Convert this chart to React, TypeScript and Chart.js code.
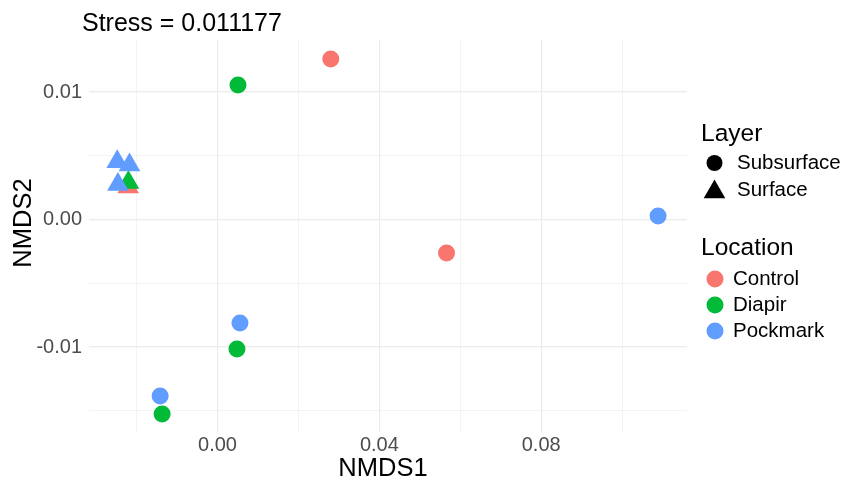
import { useEffect, useRef } from 'react';
import { Chart, registerables } from 'chart.js';
Chart.register(...registerables);

const FONT = '"Liberation Sans", Arial, Helvetica, sans-serif';

const titleText = 'Stress = 0.011177';
const xTitle = 'NMDS1';
const yTitle = 'NMDS2';

const locations = ['Control', 'Diapir', 'Pockmark'];
const locationColors = ['#F8766D', '#00BA38', '#619CFF'];
const layers = ['Subsurface', 'Surface'];

// NMDS coordinates per group
const controlSubX = [0.02799, 0.0566];
const controlSubY = [0.01259, -0.00263];
const controlSurfX = [-0.02207];
const controlSurfY = [0.00255];

const diapirSubX = [0.00506, 0.00481, -0.01369];
const diapirSubY = [0.01055, -0.01016, -0.01525];
const diapirSurfX = [-0.02202];
const diapirSurfY = [0.0029];

const pockmarkSubX = [0.10888, 0.00555, -0.01418];
const pockmarkSubY = [0.00027, -0.00812, -0.01384];
const pockmarkSurfX = [-0.02478, -0.02175, -0.02461];
const pockmarkSurfY = [0.00453, 0.00427, 0.00275];

const xTicks = [-0.02, 0, 0.02, 0.04, 0.06, 0.08, 0.1];
const xMajor = [0, 0.04, 0.08];
const xLabels = ['0.00', '0.04', '0.08'];
const yTicks = [-0.015, -0.01, -0.005, 0, 0.005, 0.01];
const yMajor = [-0.01, 0, 0.01];
const yLabels = ['-0.01', '0.00', '0.01'];

const xMin = -0.03176;
const xMax = 0.11603;
const yMin = -0.016667;
const yMax = 0.014078;

const zip = (xs: number[], ys: number[]) => xs.map((x, i) => ({ x, y: ys[i] }));
const near = (a: number, b: number) => Math.abs(a - b) < 1e-9;

export default function App() {
  const ref = useRef<HTMLCanvasElement | null>(null);

  useEffect(() => {
    if (!ref.current) return;
    const groups = [
      { loc: 2, sub: zip(pockmarkSubX, pockmarkSubY), surf: zip(pockmarkSurfX, pockmarkSurfY) },
      { loc: 1, sub: zip(diapirSubX, diapirSubY), surf: zip(diapirSurfX, diapirSurfY) },
      { loc: 0, sub: zip(controlSubX, controlSubY), surf: zip(controlSurfX, controlSurfY) },
    ];
    const datasets: any[] = [];
    groups.forEach((g, gi) => {
      const c = locationColors[g.loc];
      datasets.push({
        label: locations[g.loc] + ' ' + layers[0],
        data: g.sub,
        pointStyle: 'circle',
        pointRadius: 8.5,
        backgroundColor: c,
        borderColor: c,
        borderWidth: 0,
        order: gi,
      });
      datasets.push({
        label: locations[g.loc] + ' ' + layers[1],
        data: g.surf,
        pointStyle: 'triangle',
        pointRadius: 12.5,
        backgroundColor: c,
        borderColor: c,
        borderWidth: 0,
        order: gi,
      });
    });

    const overlay = {
      id: 'overlay',
      afterDraw(chart: any) {
        const ctx = chart.ctx as CanvasRenderingContext2D;
        ctx.save();
        ctx.fillStyle = '#000';
        // title
        ctx.font = `25px ${FONT}`;
        ctx.textAlign = 'left';
        ctx.textBaseline = 'alphabetic';
        ctx.fillText(titleText, 82, 31);
        // axis titles
        ctx.textAlign = 'center';
        ctx.textBaseline = 'middle';
        ctx.font = `25.5px ${FONT}`;
        ctx.fillText(xTitle, 383, 469);
        ctx.save();
        ctx.translate(24, 223);
        ctx.rotate(-Math.PI / 2);
        ctx.fillText(yTitle, 0, 0);
        ctx.restore();
        // legend: Layer
        ctx.textAlign = 'left';
        ctx.font = `24.5px ${FONT}`;
        ctx.fillText('Layer', 701, 134);
        ctx.font = `20.5px ${FONT}`;
        ctx.fillText(layers[0], 737, 163);
        ctx.fillText(layers[1], 737, 190);
        ctx.beginPath();
        ctx.arc(714.5, 163, 8, 0, Math.PI * 2);
        ctx.fill();
        const r = 12.5;
        const cx = 714.5, cy = 192;
        ctx.beginPath();
        ctx.moveTo(cx, cy - r);
        ctx.lineTo(cx + r * Math.sin(Math.PI / 3), cy + r / 2);
        ctx.lineTo(cx - r * Math.sin(Math.PI / 3), cy + r / 2);
        ctx.closePath();
        ctx.fill();
        // legend: Location
        ctx.font = `24.5px ${FONT}`;
        ctx.fillText('Location', 701, 248);
        ctx.font = `20.5px ${FONT}`;
        const ly = [279, 305, 331];
        locations.forEach((name, i) => {
          ctx.fillStyle = locationColors[i];
          ctx.beginPath();
          ctx.arc(715, ly[i], 8.5, 0, Math.PI * 2);
          ctx.fill();
          ctx.fillStyle = '#000';
          ctx.fillText(name, 733, ly[i]);
        });
        ctx.restore();
      },
    };

    const gridColor = '#EBEBEB';
    const chart = new Chart(ref.current, {
      type: 'scatter',
      data: { datasets },
      plugins: [overlay],
      options: {
        animation: false,
        responsive: false,
        devicePixelRatio: 1,
        layout: { padding: { top: 40, right: 158, left: 0, bottom: 0 } },
        plugins: { legend: { display: false }, tooltip: { enabled: false }, title: { display: false } },
        scales: {
          x: {
            type: 'linear',
            min: xMin,
            max: xMax,
            afterBuildTicks: (s: any) => {
              s.ticks = xTicks.map((v) => ({ value: v }));
            },
            afterFit: (s: any) => {
              s.height = 51;
            },
            border: { display: false },
            grid: {
              drawTicks: false,
              color: gridColor,
              lineWidth: (c: any) => (xMajor.some((m) => near(m, c.tick?.value)) ? 1.2 : 0.6),
            },
            ticks: {
              padding: 1,
              color: '#4D4D4D',
              font: { family: FONT, size: 20 },
              maxRotation: 0,
              autoSkip: false,
              callback: (v: any) => {
                const i = xMajor.findIndex((m) => near(m, Number(v)));
                return i >= 0 ? xLabels[i] : '';
              },
            },
          },
          y: {
            type: 'linear',
            min: yMin,
            max: yMax,
            afterBuildTicks: (s: any) => {
              s.ticks = yTicks.map((v) => ({ value: v }));
            },
            afterFit: (s: any) => {
              s.width = 89;
            },
            border: { display: false },
            grid: {
              drawTicks: false,
              color: gridColor,
              lineWidth: (c: any) => (yMajor.some((m) => near(m, c.tick?.value)) ? 1.2 : 0.6),
            },
            ticks: {
              padding: 7,
              color: '#4D4D4D',
              font: { family: FONT, size: 20 },
              autoSkip: false,
              callback: (v: any) => {
                const i = yMajor.findIndex((m) => near(m, Number(v)));
                return i >= 0 ? yLabels[i] : '';
              },
            },
          },
        },
      },
    });
    return () => chart.destroy();
  }, []);

  return (
    <div style={{ position: 'fixed', left: 0, top: 0, width: 845, height: 483, background: '#fff' }}>
      <canvas ref={ref} width={845} height={483} />
    </div>
  );
}
